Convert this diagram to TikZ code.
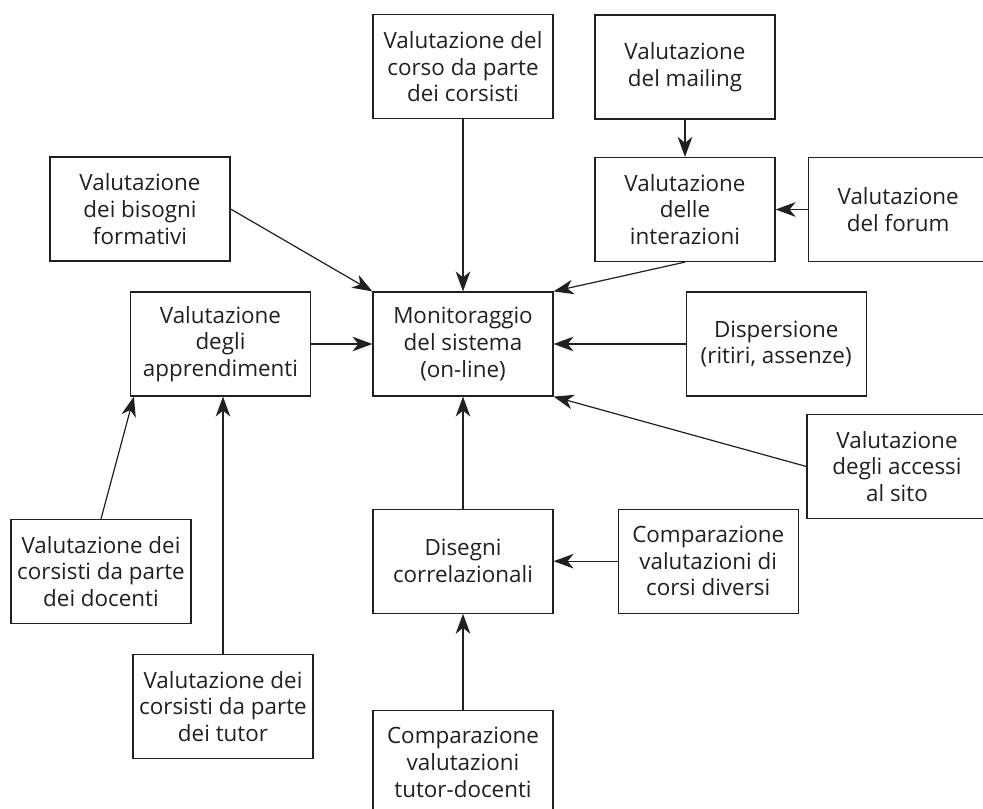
\documentclass[tikz,border=0pt]{standalone}
\usepackage{fontspec}
\setmainfont{Open Sans}
\usepackage{xcolor}
\usetikzlibrary{positioning,arrows.meta}
\definecolor{ink}{HTML}{231F20}

\begin{document}
\begin{tikzpicture}[
    x=0.75pt, y=-0.75pt,
    box/.style={draw=ink, line width=0.9pt, text=ink, minimum width=135pt, minimum height=78pt, align=center, inner sep=2pt, font=\fontsize{16.8}{20}\selectfont},
    every edge/.append style={-{Stealth[length=15pt, width=11pt, inset=4.5pt]}, draw=ink, line width=0.9pt}
  ]
  \useasboundingbox (0,0) rectangle (983,809);
  \clip (0,0) rectangle (983,809);

  \node[box] (mon) at (463,344) {Monitoraggio\\del sistema\\(on-line)};
  \node[box, above=129pt of mon] (corso) {Valutazione del\\corso da parte\\dei corsisti};
  \node[box, right=99pt of mon] (disp) {Dispersione\\(ritiri, assenze)};
  \node[box, left=46pt of mon] (appr) {Valutazione\\degli\\apprendimenti};
  \node[box, below=84pt of mon] (dis) {Disegni\\correlazionali};
  \node[box, right=48pt of dis] (corsi) {Comparazione\\valutazioni di\\corsi diversi};
  \node[box, below=72pt of dis] (tutdoc) {Comparazione\\valutazioni\\tutor-docenti};
  \node[box] (inter) at (685,209.5) {Valutazione\\delle\\interazioni};
  \node[box, above=28pt of inter] (mailing) {Valutazione\\del mailing};
  \node[box, right=24pt of inter] (forum) {Valutazione\\del forum};
  \node[box] (bisogni) at (140,209) {Valutazione\\dei bisogni\\formativi};
  \node[box] (accessi) at (897,466.5) {Valutazione\\degli accessi\\al sito};
  \node[box] (docenti) at (101,571.5) {Valutazione dei\\corsisti da parte\\dei docenti};
  \node[box] (tutor) at (223,706.5) {Valutazione dei\\corsisti da parte\\dei tutor};

  \draw (corso) edge (mon);
  \draw (mailing) edge (mailing |- inter.north);
  \draw (forum) edge (inter);
  \draw (inter.south) edge (mon.north east);
  \draw (bisogni.east) edge (mon.north west);
  \draw (appr) edge (mon);
  \draw (disp) edge (mon);
  \draw (accessi.west) edge (mon.south east);
  \draw (dis) edge (mon);
  \draw (corsi) edge (dis);
  \draw (tutdoc) edge (dis);
  \draw (docenti.north) edge ([xshift=3pt]appr.south west);
  \draw (tutor) edge (tutor |- appr.south);
\end{tikzpicture}
\end{document}
